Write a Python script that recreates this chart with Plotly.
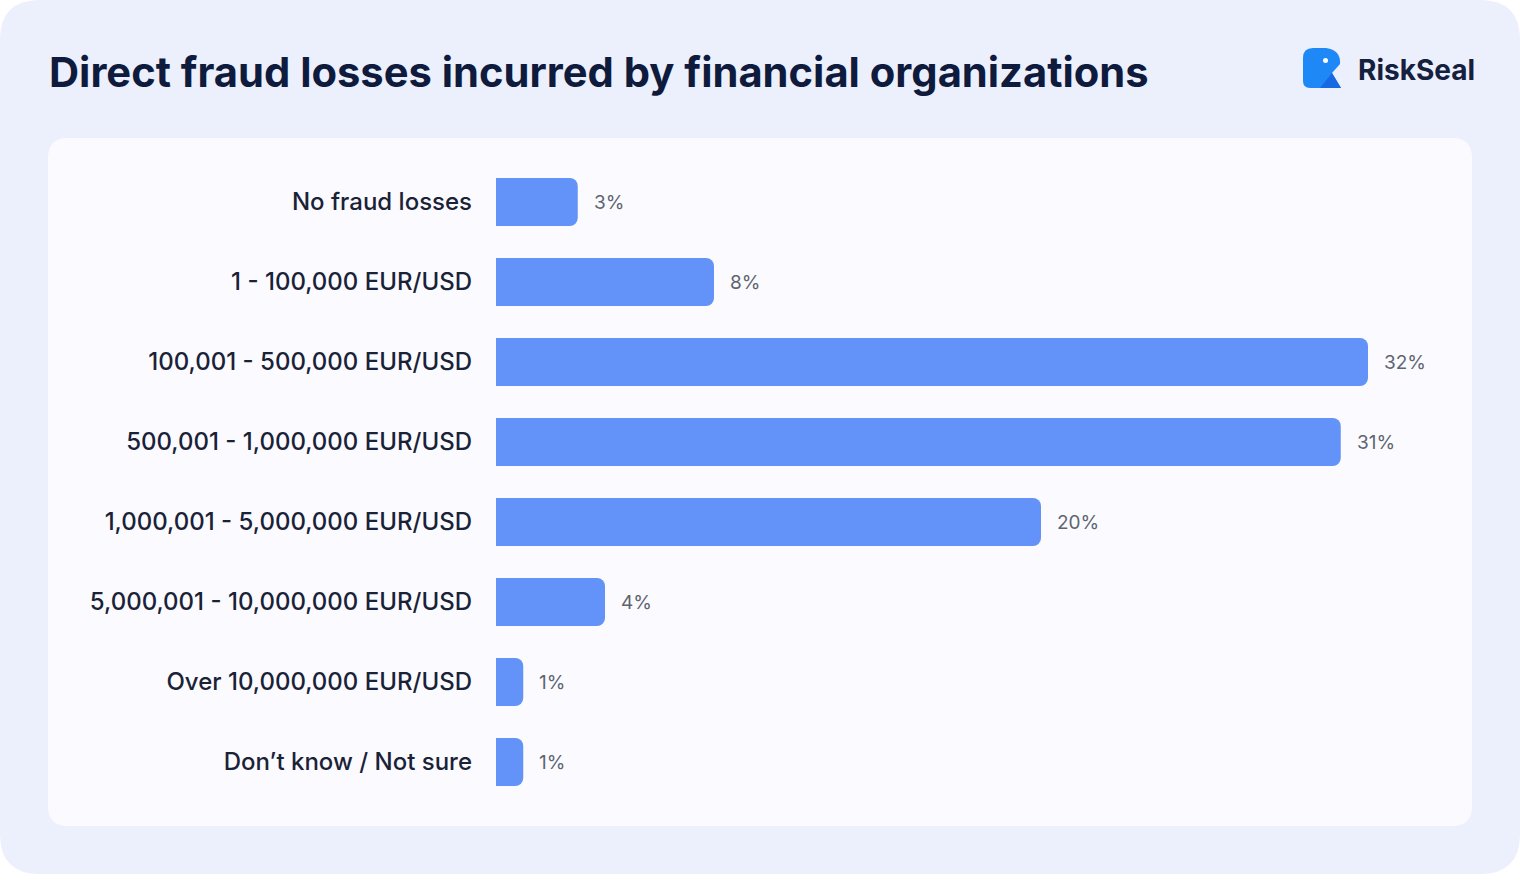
import plotly.graph_objects as go

categories = [
    "No fraud losses",
    "1 - 100,000 EUR/USD",
    "100,001 - 500,000 EUR/USD",
    "500,001 - 1,000,000 EUR/USD",
    "1,000,001 - 5,000,000 EUR/USD",
    "5,000,001 - 10,000,000 EUR/USD",
    "Over 10,000,000 EUR/USD",
    "Don\u2019t know / Not sure",
]
values = [3, 8, 32, 31, 20, 4, 1, 1]
value_labels = ["3%", "8%", "32%", "31%", "20%", "4%", "1%", "1%"]

W, H = 1520, 882
L, R, T, B = 496, 52, 162, 80
PW, PH = W - L - R, H - T - B
PX_PER_UNIT = 27.25
XMAX = PW / PX_PER_UNIT


def px(x):
    return (x - L) / PW


def py(y):
    return 1 - (y - T) / PH


def rounded_rect(x0, y0, x1, y1, r):
    return (
        f"M{px(x0 + r)},{py(y0)} L{px(x1 - r)},{py(y0)} "
        f"Q{px(x1)},{py(y0)} {px(x1)},{py(y0 + r)} "
        f"L{px(x1)},{py(y1 - r)} Q{px(x1)},{py(y1)} {px(x1 - r)},{py(y1)} "
        f"L{px(x0 + r)},{py(y1)} Q{px(x0)},{py(y1)} {px(x0)},{py(y1 - r)} "
        f"L{px(x0)},{py(y0 + r)} Q{px(x0)},{py(y0)} {px(x0 + r)},{py(y0)} Z"
    )


fig = go.Figure()
fig.add_trace(
    go.Bar(
        x=values,
        y=categories,
        orientation="h",
        marker=dict(color="#6392F8", cornerradius=8, line=dict(width=0)),
        hoverinfo="skip",
        showlegend=False,
    )
)

shapes = [
    dict(type="path", xref="paper", yref="paper", path=rounded_rect(0, 0, 1520, 874, 40),
         fillcolor="#ECEFFC", line=dict(width=0), layer="below"),
    dict(type="path", xref="paper", yref="paper", path=rounded_rect(48, 138, 1472, 826, 20),
         fillcolor="#FBFBFF", line=dict(width=0), layer="below"),
    # logo body
    dict(type="path", xref="paper", yref="paper",
         path=(f"M{px(1303)},{py(58)} Q{px(1303)},{py(48)} {px(1313)},{py(48)} "
               f"L{px(1326)},{py(48)} Q{px(1341)},{py(50)} {px(1340)},{py(64)} "
               f"L{px(1332)},{py(73)} L{px(1341)},{py(88)} L{px(1310)},{py(88)} "
               f"Q{px(1303)},{py(88)} {px(1303)},{py(81)} Z"),
         fillcolor="#1E88F7", line=dict(width=0), layer="above"),
    dict(type="path", xref="paper", yref="paper",
         path=f"M{px(1320)},{py(88)} L{px(1332)},{py(73)} L{px(1341)},{py(88)} Z",
         fillcolor="#1668E3", line=dict(width=0), layer="above"),
    dict(type="circle", xref="paper", yref="paper",
         x0=px(1323), x1=px(1328), y0=py(63), y1=py(58),
         fillcolor="#FFFFFF", line=dict(width=0), layer="above"),
]

annotations = [
    dict(x=v, y=c, xref="x", yref="y", text=t, showarrow=False, xanchor="left",
         xshift=14, font=dict(family="Inter", size=19, color="#5E6470"))
    for v, c, t in zip(values, categories, value_labels)
]
annotations.append(
    dict(x=px(1356), y=py(70), xref="paper", yref="paper", text="<b>RiskSeal</b>",
         showarrow=False, xanchor="left", yanchor="middle",
         font=dict(family="Inter", size=28, color="#14203D"))
)

fig.update_layout(
    width=W,
    height=H,
    margin=dict(l=L, r=R, t=T, b=B),
    paper_bgcolor="#FFFFFF",
    plot_bgcolor="rgba(0,0,0,0)",
    bargap=0.4,
    title=dict(
        text="<b>Direct fraud losses incurred by financial organizations</b>",
        xref="container", yref="container", x=49 / W, y=1 - 72 / H,
        xanchor="left", yanchor="middle",
        font=dict(family="Inter", size=41.7, color="#0F1B3D"),
    ),
    xaxis=dict(range=[0, XMAX], visible=False, fixedrange=True),
    yaxis=dict(
        autorange="reversed",
        showgrid=False,
        zeroline=False,
        showline=False,
        ticks="",
        ticklabelstandoff=23,
        tickfont=dict(family="Inter", size=24, color="#1A2238", weight=500),
        fixedrange=True,
    ),
    shapes=shapes,
    annotations=annotations,
)

fig.write_html(
    "out.html",
    config={"displayModeBar": False},
    post_script="document.body.style.margin='0';document.body.style.overflow='hidden';",
)
